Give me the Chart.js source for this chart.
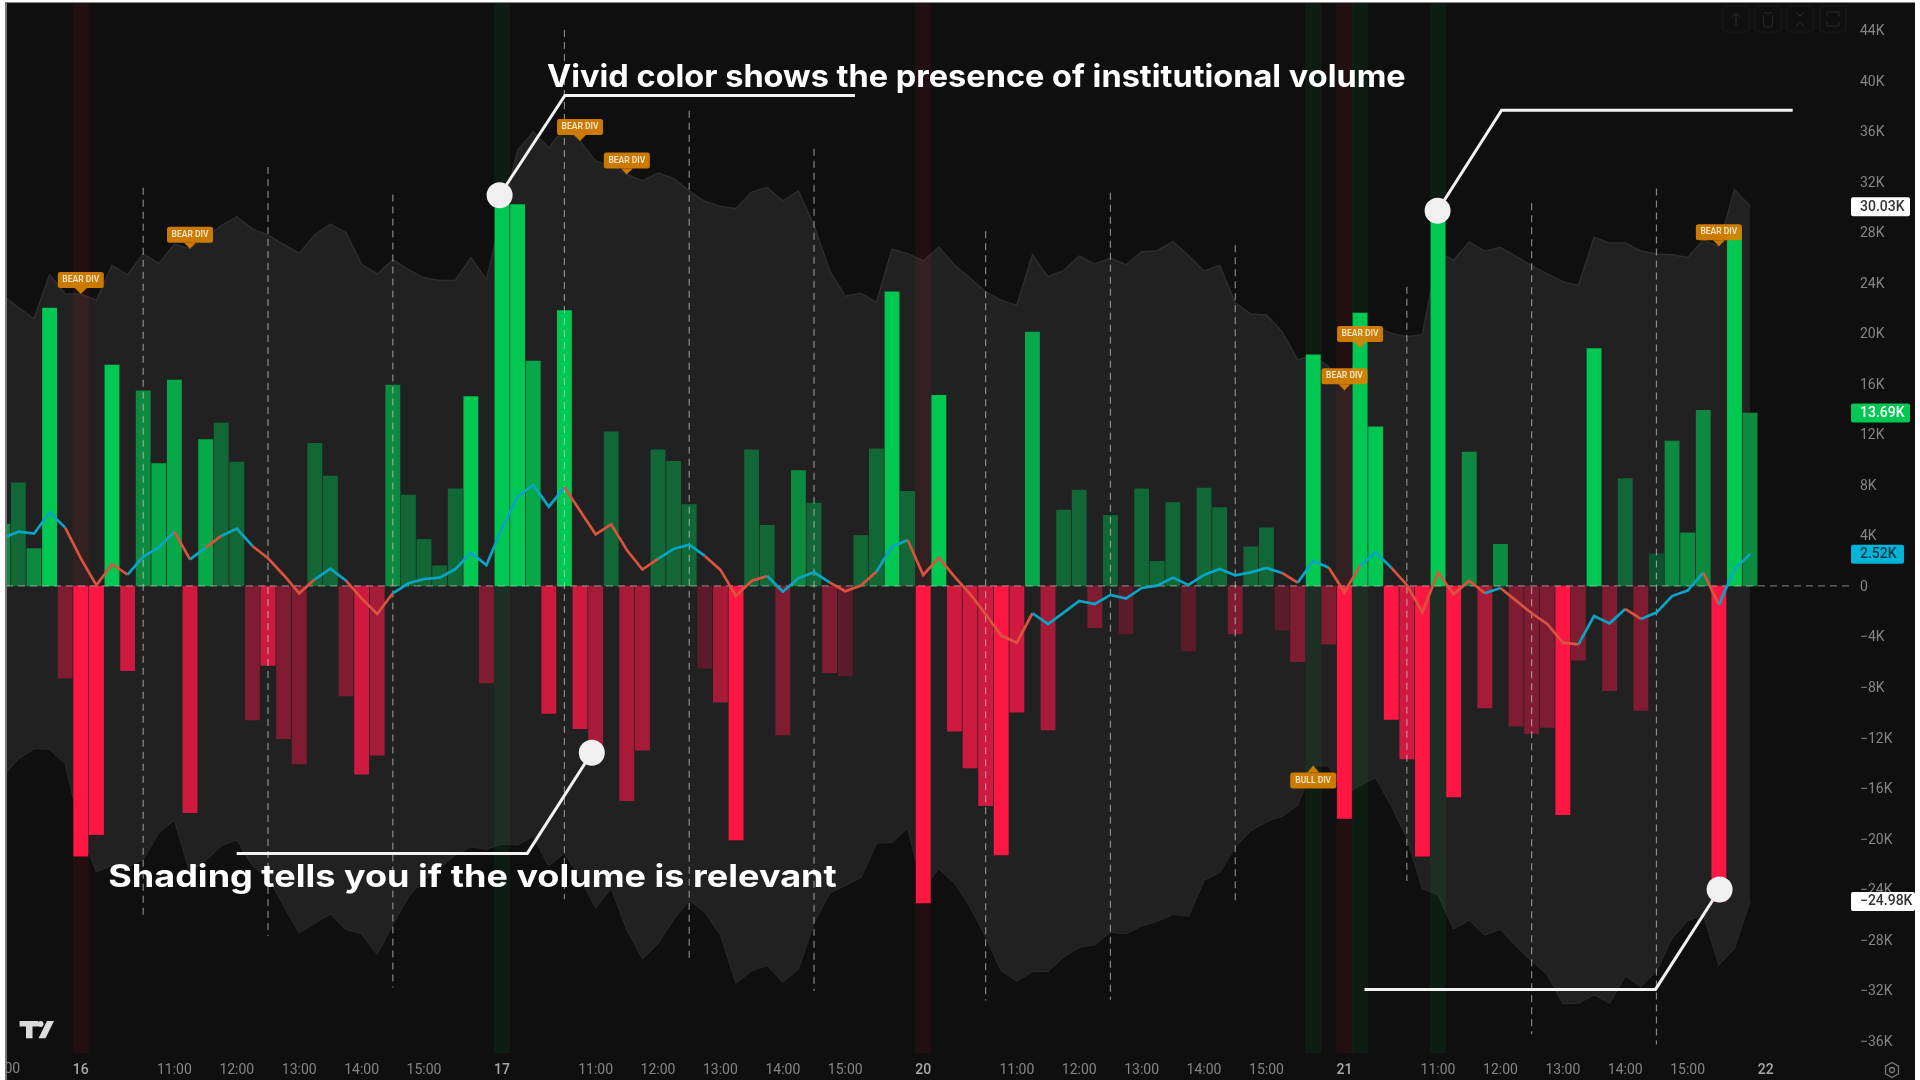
<!DOCTYPE html>
<html>
<head>
<meta charset="utf-8">
<title>Volume delta</title>
<script src="https://cdn.jsdelivr.net/npm/chart.js@4"></script>
<style>
  html, body { margin: 0; padding: 0; background: #fff; overflow: hidden; }
  #wrap { position: absolute; left: 6px; top: 3px; width: 1909px; height: 1077px; background: #0f0f0f; }
  #frame { position: absolute; left: 5px; top: 2px; width: 1910px; height: 1078px; border-left: 2px solid #777; border-top: 1px solid #888; box-sizing: border-box; z-index: 2; pointer-events: none; }
</style>
</head>
<body>
<div id="wrap"><canvas id="line-chart" width="1909" height="1077"></canvas></div>
<div id="frame"></div>
<script>
// bar volume per slot, in thousands (first slot sits just off the left edge)
const volume = [4.9,
  8.17, 2.96, 22.0, -7.3, -21.4, -19.7, 17.5, -6.7, 15.45, 9.7,
  16.3, -17.95, 11.6, 12.9, 9.8, -10.6, -6.3, -12.1, -14.1, 11.3,
  8.7, -8.7, -14.9, -13.4, 15.9, 7.2, 3.7, 1.6, 7.7, 15.0,
  -7.67, 31.5, 30.2, 17.8, -10.1, 21.8, -11.3, -13.3, 12.2, -17.0,
  -13.0, 10.77, 9.86, 6.45, -6.5, -9.2, -20.1, 10.77, 4.8, -11.8,
  9.13, 6.56, -6.86, -7.13, 4.0, 10.85, 23.3, 7.5, -25.1, 15.1,
  -11.5, -14.4, -17.4, -21.3, -10.0, 20.1, -11.4, 6.0, 7.6, -3.3,
  5.6, -3.8, 7.7, 1.95, 6.6, -5.16, 7.76, 6.2, -3.8, 3.1,
  4.6, -3.5, -6.0, 18.3, -4.6, -18.4, 21.6, 12.6, -10.56, -13.7,
  -21.4, 30.03, -16.7, 10.6, -9.66, 3.3, -11.1, -11.7, -11.2, -18.1,
  -5.87, 18.8, -8.3, 8.5, -9.86, 2.55, 11.47, 4.2, 13.9, -24.98,
  28.2, 13.69];

// colour strength of each bar, 0 faint to 4 vivid
const strength = [2,
  1, 2, 4, 1, 4, 4, 4, 3, 2, 3,
  3, 3, 3, 1, 1, 1, 3, 1, 1, 1,
  1, 1, 3, 2, 2, 1, 1, 1, 1, 4,
  1, 4, 4, 3, 3, 4, 3, 2, 1, 2,
  2, 1, 1, 1, 0, 2, 4, 1, 1, 1,
  2, 1, 1, 0, 1, 1, 4, 1, 4, 4,
  3, 3, 3, 4, 3, 3, 2, 1, 1, 1,
  1, 0, 1, 1, 1, 0, 1, 1, 1, 1,
  1, 0, 1, 4, 1, 4, 4, 4, 4, 3,
  4, 4, 4, 2, 2, 2, 1, 1, 1, 4,
  1, 4, 1, 1, 1, 0, 2, 2, 2, 4,
  4, 2];

// relevance band
const bandUpper = [23.0,
  22.05, 21.15, 24.64, 23.14, 23.12, 22.62, 25.38, 24.64, 26.3, 25.54,
  27.04, 26.7, 27.59, 28.54, 29.22, 28.27, 27.78, 27.04, 26.33, 27.81,
  28.65, 27.97, 25.49, 24.7, 25.81, 25.05, 24.4, 24.18, 24.18, 26.01,
  24.26, 29.5, 34.49, 35.96, 34.68, 36.31, 35.24, 33.64, 33.31, 32.58,
  32.09, 32.69, 32.28, 31.27, 30.45, 30.04, 29.88, 31.19, 31.54, 30.5,
  31.27, 28.54, 24.94, 22.95, 23.17, 22.46, 26.66, 26.31, 25.73, 26.82,
  25.41, 24.37, 23.28, 22.62, 22.22, 26.22, 24.48, 24.97, 26.11, 25.49,
  25.95, 25.43, 26.47, 26.55, 27.26, 26.17, 24.94, 25.38, 22.41, 21.53,
  21.45, 20.14, 17.91, 18.24, 17.36, 15.5, 18.85, 20.5, 20.0, 19.76,
  19.9, 26.41, 25.79, 27.23, 26.5, 26.82, 26.09, 25.35, 24.72, 24.1,
  23.77, 27.61, 27.15, 27.15, 26.52, 26.28, 26.22, 26.01, 27.4, 26.9,
  31.4, 30.04];

const bandLower = [-15.04,
  -13.67, -12.85, -12.93, -14.03, -19.26, -22.61, -22.12, -22.26, -21.58, -19.53,
  -18.5, -22.67, -21.71, -20.54, -20.08, -22.12, -23.08, -25.26, -27.44, -26.7,
  -25.94, -27.17, -27.52, -29.13, -26.76, -24.58, -23.21, -22.26, -21.31, -20.62,
  -20.82, -20.41, -20.49, -19.81, -22.12, -21.09, -23.08, -25.45, -23.9, -27.17,
  -29.48, -28.26, -26.35, -24.85, -25.8, -27.58, -31.39, -30.44, -30.03, -31.34,
  -30.3, -26.62, -24.3, -23.7, -23.08, -20.35, -20.3, -19.12, -23.95, -22.34,
  -23.49, -25.39, -27.71, -30.44, -31.26, -30.52, -30.49, -29.35, -28.59, -28.4,
  -27.39, -27.52, -26.9, -26.54, -26.0, -26.13, -23.27, -22.67, -20.62, -19.34,
  -18.66, -18.22, -17.35, -14.22, -14.22, -16.48, -15.77, -15.17, -17.35, -19.94,
  -23.95, -24.44, -27.11, -26.43, -27.63, -27.17, -28.48, -29.68, -30.71, -33.06,
  -33.03, -32.35, -33.0, -30.85, -31.72, -30.44, -27.85, -26.49, -25.94, -29.95,
  -28.67, -24.93];

// smoothed delta line
const deltaLine = [3.8,
  4.3, 4.14, 5.83, 4.62, 2.19, 0.05, 1.72, 0.9, 2.32, 3.04,
  4.3, 2.11, 3.04, 3.96, 4.54, 3.17, 2.19, 0.87, -0.58, 0.53,
  1.37, 0.42, -0.98, -2.22, -0.58, 0.21, 0.55, 0.66, 1.32, 2.64,
  1.66, 4.57, 7.07, 8.0, 6.28, 7.81, 5.96, 4.09, 4.88, 2.85,
  1.3, 2.14, 2.93, 3.27, 2.38, 1.27, -0.79, 0.4, 0.79, -0.45,
  0.61, 1.08, 0.29, -0.42, 0.03, 1.13, 3.11, 3.64, 0.87, 2.24,
  0.74, -0.63, -2.22, -3.93, -4.49, -2.16, -3.01, -2.11, -1.19, -1.43,
  -0.71, -1.0, -0.16, 0.03, 0.66, 0.08, 0.87, 1.35, 0.84, 1.08,
  1.43, 1.03, 0.26, 2.0, 1.45, -0.5, 1.61, 2.67, 1.45, 0.08,
  -2.08, 1.06, -0.66, 0.42, -0.58, -0.16, -1.16, -2.16, -3.01, -4.49,
  -4.62, -2.38, -2.96, -1.82, -2.61, -2.11, -0.8, -0.37, 1.05, -1.48,
  1.32, 2.52];

// slots where the delta line turns red for the next segment
const redSegments = [4, 5, 6, 7, 11, 13, 16, 17, 18, 19, 22, 23, 24, 36, 37, 38, 39, 40, 41,
  45, 46, 47, 48, 53, 54, 55, 58, 59, 60, 61, 62, 63, 64, 65, 82, 85, 86, 89, 90, 91, 92, 93, 94,
  96, 97, 98, 99, 100, 104, 109];

const redHighlights = [5, 59, 86];
const greenHighlights = [32, 84, 87, 92];

// dashed session markers: slot, top, bottom
const markerSlots = [9, 17, 25, 36, 44, 52, 63, 71, 79, 90, 98, 106];
const markerTops = [31.54, 33.17, 30.99, 44.02, 37.62, 34.62, 28.08, 31.13, 26.98, 23.69, 30.31, 31.48];
const markerBottoms = [-26.03, -27.71, -31.8, -24.8, -29.75, -32.07, -32.83, -32.76, -24.9, -23.36, -35.48, -36.3];

const bearSlots = [5, 12, 37, 40, 86, 87, 110];
const bullSlots = [84];

const timeSlots = [5, 11, 15, 19, 23, 27, 32, 38, 42, 46, 50, 54, 59, 65, 69, 73, 77, 81, 86, 92, 96, 100, 104, 108, 113];
const timeLabels = ['16', '11:00', '12:00', '13:00', '14:00', '15:00', '17', '11:00', '12:00', '13:00', '14:00', '15:00',
  '20', '11:00', '12:00', '13:00', '14:00', '15:00', '21', '11:00', '12:00', '13:00', '14:00', '15:00', '22'];
const priceTicks = [44, 40, 36, 32, 28, 24, 20, 16, 12, 8, 4, 0, -4, -8, -12, -16, -20, -24, -28, -32, -36];

const xMin = 0.205, xMax = 118.47;
const yMin = -36.98, yMax = 46.16;

const greens = ['#0f5230', '#126737', '#0c8a40', '#07a84a', '#00c853'];
const reds = ['#5c1b2b', '#7f1c32', '#a61b38', '#cf1a40', '#ff1744'];

const points = arr => arr.map((v, k) => ({ x: k, y: v }));

function highlight(slots, color) {
  return {
    type: 'bar', order: 4, grouped: false, barThickness: 15.6, backgroundColor: color,
    data: slots.map(k => ({ x: k, y: [yMin, yMax] }))
  };
}

const markerSets = markerSlots.map((k, n) => ({
  type: 'line', order: 2, pointRadius: 0, borderWidth: 1.2, borderDash: [7, 5],
  borderColor: 'rgba(205,205,205,0.62)',
  data: [{ x: k, y: markerTops[n] }, { x: k, y: markerBottoms[n] }]
}));

function priceText(v) {
  if (v === 0) return '0';
  return (v < 0 ? '\u2212' : '') + Math.abs(v) + 'K';
}

function roundBox(ctx, x, y, w, h, r) {
  ctx.beginPath();
  ctx.roundRect(x, y, w, h, r);
  ctx.fill();
}

function priceTag(chart, value, text, fill, textColor, width) {
  const ctx = chart.ctx;
  const y = chart.scales.y.getPixelForValue(value);
  const x = chart.chartArea.right;
  ctx.fillStyle = fill;
  roundBox(ctx, x, y - 9.5, width, 19, 2);
  ctx.fillStyle = textColor;
  ctx.font = '500 14px Roboto';
  ctx.textAlign = 'left';
  ctx.textBaseline = 'middle';
  ctx.fillText(text, x + 9, y + 0.5);
}

function badge(chart, slot, value, text, below) {
  const ctx = chart.ctx;
  const x = chart.scales.x.getPixelForValue(slot);
  const y = chart.scales.y.getPixelForValue(value);
  const boxTop = below ? y + 7 : y - 22;
  ctx.fillStyle = 'rgba(217,130,0,0.93)';
  roundBox(ctx, x - 23, boxTop, 46, 16, 2.5);
  ctx.beginPath();
  if (below) {
    ctx.moveTo(x - 6, y + 7); ctx.lineTo(x, y); ctx.lineTo(x + 6, y + 7);
  } else {
    ctx.moveTo(x - 6, y - 6); ctx.lineTo(x, y); ctx.lineTo(x + 6, y - 6);
  }
  ctx.fill();
  ctx.fillStyle = '#f6e6cc';
  ctx.font = '600 8.5px Roboto';
  ctx.textAlign = 'center';
  ctx.textBaseline = 'middle';
  ctx.fillText(text, x, boxTop + 8);
}

// leader line ending in a round dot
function callout(ctx, dot, path) {
  ctx.strokeStyle = '#f2f2f2';
  ctx.lineWidth = 3;
  ctx.lineJoin = 'miter';
  ctx.beginPath();
  ctx.moveTo(dot[0], dot[1]);
  path.forEach(p => ctx.lineTo(p[0], p[1]));
  ctx.stroke();
  ctx.fillStyle = '#f0f0f0';
  ctx.beginPath();
  ctx.arc(dot[0], dot[1], 13, 0, Math.PI * 2);
  ctx.fill();
}

function heading(ctx, text, x, y, width) {
  ctx.save();
  ctx.font = '700 31px Inter';
  ctx.textAlign = 'left';
  ctx.textBaseline = 'alphabetic';
  ctx.fillStyle = '#fff';
  const natural = ctx.measureText(text).width;
  ctx.translate(x, y);
  ctx.scale(width / natural, 1);
  ctx.fillText(text, 0, 0);
  ctx.restore();
}

function logo(ctx) {
  ctx.fillStyle = '#dcdcdc';
  ctx.fillRect(13.6, 1018, 18.4, 5.5);
  ctx.fillRect(20, 1018, 6.5, 17.3);
  ctx.beginPath();
  ctx.arc(34.5, 1021, 3, 0, Math.PI * 2);
  ctx.fill();
  ctx.beginPath();
  ctx.moveTo(41, 1018); ctx.lineTo(48, 1018); ctx.lineTo(39.5, 1035.3); ctx.lineTo(32.5, 1035.3);
  ctx.closePath();
  ctx.fill();
}

function toolbar(ctx) {
  ctx.strokeStyle = '#1a1a1a';
  ctx.lineWidth = 1;
  [1717, 1749, 1781, 1814].forEach(x => {
    ctx.beginPath();
    ctx.roundRect(x, 3, 26, 26, 3);
    ctx.stroke();
  });
  ctx.strokeStyle = '#2a2a2a';
  ctx.beginPath();
  ctx.moveTo(1730, 23); ctx.lineTo(1730, 10); ctx.moveTo(1726, 14); ctx.lineTo(1730, 10); ctx.lineTo(1734, 14);
  ctx.moveTo(1758, 10); ctx.lineTo(1766, 10); ctx.moveTo(1757, 12); ctx.lineTo(1758, 24); ctx.lineTo(1766, 24); ctx.lineTo(1767, 12);
  ctx.moveTo(1790, 9); ctx.lineTo(1794, 13); ctx.lineTo(1798, 9); ctx.moveTo(1790, 23); ctx.lineTo(1794, 19); ctx.lineTo(1798, 23);
  ctx.moveTo(1821, 13); ctx.lineTo(1821, 9); ctx.lineTo(1833, 9); ctx.lineTo(1833, 13);
  ctx.moveTo(1821, 19); ctx.lineTo(1821, 23); ctx.lineTo(1833, 23); ctx.lineTo(1833, 19);
  ctx.stroke();
}

function gear(ctx) {
  const cx = 1886, cy = 1067, r = 7.5;
  ctx.strokeStyle = '#7a7a7a';
  ctx.lineWidth = 1.3;
  ctx.beginPath();
  for (let n = 0; n < 6; n++) {
    const a = Math.PI / 6 + n * Math.PI / 3;
    ctx.lineTo(cx + r * Math.cos(a), cy + r * Math.sin(a));
  }
  ctx.closePath();
  ctx.stroke();
  ctx.beginPath();
  ctx.arc(cx, cy, 2.5, 0, Math.PI * 2);
  ctx.stroke();
}

const overlay = {
  id: 'overlay',
  afterDraw(chart) {
    const ctx = chart.ctx;
    ctx.save();

    // hour label cut off by the left edge
    ctx.fillStyle = '#858585';
    ctx.font = '14px Roboto';
    ctx.textAlign = 'center';
    ctx.textBaseline = 'middle';
    ctx.fillText('15:00', chart.scales.x.getPixelForValue(0), chart.chartArea.bottom + 16);

    bearSlots.forEach(k => badge(chart, k, bandUpper[k], 'BEAR DIV', false));
    bullSlots.forEach(k => badge(chart, k, bandLower[k], 'BULL DIV', true));

    priceTag(chart, 30.03, '30.03K', '#ffffff', '#333333', 59);
    priceTag(chart, volume[volume.length - 1], '13.69K', '#00c853', '#ffffff', 59);
    priceTag(chart, deltaLine[deltaLine.length - 1], '2.52K', '#00b4d8', '#0b3a45', 53);
    priceTag(chart, -24.98, '\u221224.98K', '#ffffff', '#333333', 64);

    callout(ctx, [493.6, 192.2], [[558.9, 92.4], [849, 92.4]]);
    callout(ctx, [1431.6, 207.7], [[1495.6, 107.2], [1786.7, 107.2]]);
    callout(ctx, [585.8, 749.8], [[521.3, 850.4], [230.7, 850.4]]);
    callout(ctx, [1713.6, 886.5], [[1649.5, 986.4], [1358.5, 986.4]]);

    heading(ctx, 'Vivid color shows the presence of institutional volume', 541, 83.6, 858.7);
    heading(ctx, 'Shading tells you if the volume is relevant', 102.2, 884.2, 728.5);

    logo(ctx);
    toolbar(ctx);
    gear(ctx);
    ctx.restore();
  }
};

Chart.defaults.font.family = 'Roboto';

const myChart = new Chart(document.getElementById('line-chart').getContext('2d'), {
  data: {
    datasets: [
      { type: 'line', order: 5, data: points(bandUpper), fill: '+1', backgroundColor: '#212121',
        borderColor: '#2d2d2d', borderWidth: 1.5, pointRadius: 0, tension: 0 },
      { type: 'line', order: 5, data: points(bandLower), borderColor: '#2d2d2d', borderWidth: 1.5, pointRadius: 0, tension: 0 },
      highlight(redHighlights, 'rgba(255,23,68,0.08)'),
      highlight(greenHighlights, 'rgba(0,200,83,0.08)'),
      { type: 'bar', order: 3, grouped: false, barThickness: 14.2, data: points(volume),
        backgroundColor: c => (volume[c.dataIndex] >= 0 ? greens : reds)[strength[c.dataIndex]] },
      ...markerSets,
      { type: 'line', order: 2, pointRadius: 0, borderWidth: 1.2, borderDash: [7, 5], borderColor: 'rgba(190,190,190,0.55)',
        data: [{ x: xMin, y: 0 }, { x: xMax, y: 0 }] },
      { type: 'line', order: 1, data: points(deltaLine), borderWidth: 2.7, pointRadius: 0, tension: 0, borderColor: '#0aa5c4',
        segment: { borderColor: c => redSegments.includes(c.p0DataIndex) ? '#d9533f' : '#0aa5c4' } }
    ]
  },
  options: {
    responsive: false,
    animation: false,
    plugins: { legend: { display: false }, tooltip: { enabled: false } },
    layout: { padding: 0 },
    scales: {
      x: {
        type: 'linear', min: xMin, max: xMax, bounds: 'data', offset: false,
        grid: { display: false, offset: false, drawTicks: false }, border: { display: false },
        afterBuildTicks: axis => { axis.ticks = timeSlots.map(v => ({ value: v })); },
        afterFit: axis => { axis.height = 27; axis.paddingLeft = 0; axis.paddingRight = 0; },
        ticks: {
          autoSkip: false, maxRotation: 0, padding: 9,
          callback: v => timeLabels[timeSlots.indexOf(v)],
          color: c => /:/.test(timeLabels[c.index]) ? '#858585' : '#a8a8a8',
          font: c => ({ size: 14, weight: /:/.test(timeLabels[c.index]) ? '400' : '500' })
        }
      },
      y: {
        position: 'right', min: yMin, max: yMax,
        grid: { display: false, drawTicks: false }, border: { display: false },
        afterBuildTicks: axis => { axis.ticks = priceTicks.map(v => ({ value: v })); },
        afterFit: axis => { axis.width = 64; axis.paddingTop = 0; axis.paddingBottom = 0; },
        ticks: { autoSkip: false, padding: 9, labelOffset: 1.5, color: '#858585', font: { size: 14 }, callback: priceText }
      }
    }
  },
  plugins: [overlay]
});
</script>
</body>
</html>
